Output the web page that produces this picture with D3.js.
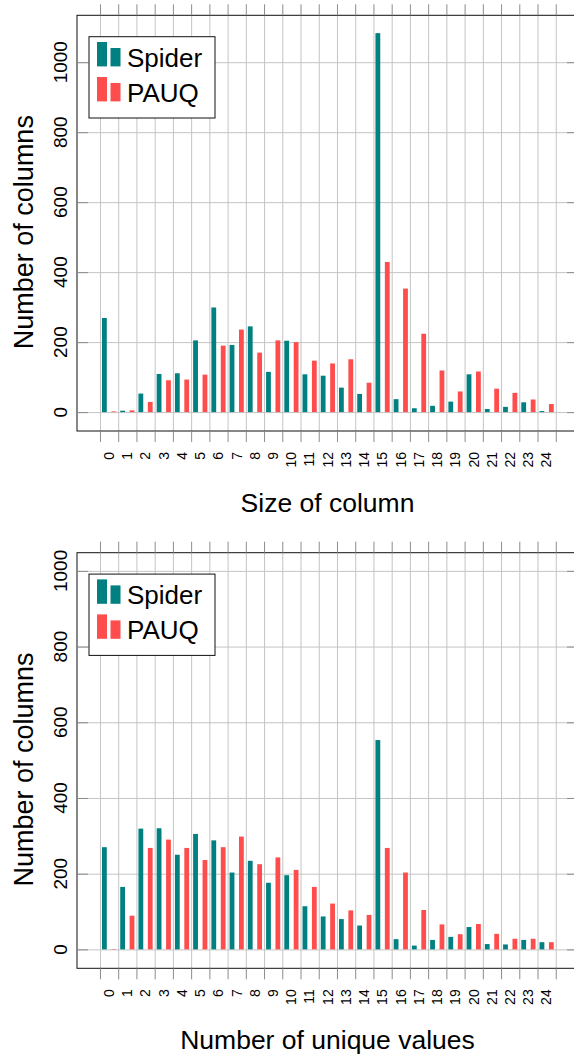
<!DOCTYPE html>
<html>
<head>
<meta charset="utf-8">
<script src="https://cdn.jsdelivr.net/npm/d3@7"></script>
<style>
    body { margin: 0; background: #fff; }
    svg text { font-family: "Liberation Sans", Arial, sans-serif; fill: #000; }
</style>
</head>
<body>
<div id="chart"></div>
<script>
// categories on the x axis (0..24)
const categories = ["0", "1", "2", "3", "4", "5", "6", "7", "8", "9", "10", "11", "12",
    "13", "14", "15", "16", "17", "18", "19", "20", "21", "22", "23", "24"];
const yTicks = [0, 200, 400, 600, 800, 1000];
const seriesNames = ["Spider", "PAUQ"];
const seriesColors = ["#008080", "#ff4d4d"];

// top panel: size of column
const sizeSpider = [269, 4, 53, 109, 111, 205, 299, 192, 245, 115, 204, 108, 104, 70, 52,
    1083, 37, 11, 18, 30, 108, 9, 15, 28, 3];
const sizePauq = [2, 5, 29, 91, 93, 107, 190, 236, 170, 205, 200, 147, 139, 151, 84,
    429, 353, 224, 119, 59, 116, 67, 55, 36, 23];

// bottom panel: number of unique values
const uniqueSpider = [270, 165, 319, 320, 250, 305, 288, 203, 234, 176, 196, 114, 87, 80, 63,
    553, 27, 10, 25, 33, 59, 14, 13, 25, 19];
const uniquePauq = [1, 89, 268, 290, 268, 236, 270, 298, 225, 243, 210, 165, 121, 103, 91,
    268, 203, 104, 66, 40, 67, 41, 28, 28, 19];

const svg = d3.select("#chart").append("svg")
    .attr("width", 574)
    .attr("height", 1055);

const left = 77, right = 578;

function drawPanel(opt) {
    let g = svg.append("g");
    let h = opt.bottom - opt.top;

    let x = d3.scaleLinear().domain([-1.26, 26.22]).range([left, right]);
    let y = d3.scaleLinear().domain(opt.yDomain).range([opt.bottom, opt.top]);
    let bounds = d3.range(0, categories.length + 1);

    // grid
    g.append("g")
        .attr("class", "grid")
        .attr("transform", "translate(0," + opt.bottom + ")")
        .call(d3.axisBottom(x).tickValues(bounds).tickSize(-h).tickSizeOuter(0).tickFormat(""));
    g.append("g")
        .attr("class", "grid")
        .attr("transform", "translate(" + left + ",0)")
        .call(d3.axisLeft(y).tickValues(yTicks).tickSize(-(right - left)).tickSizeOuter(0).tickFormat(""));
    g.selectAll(".grid .domain").remove();
    g.selectAll(".grid line").attr("stroke", "#c4c4c4").attr("stroke-width", 1);

    // bars
    let series = [opt.spider, opt.pauq];
    let offsets = [-4.7, 4.7];
    series.forEach((vals, s) => {
        g.selectAll(".bar" + s)
            .data(vals)
            .enter().append("rect")
            .attr("class", "bar" + s)
            .attr("x", (d, i) => x(i + 0.5) + offsets[s] - 2.4)
            .attr("width", 4.8)
            .attr("y", d => y(d))
            .attr("height", d => y(0) - y(d))
            .attr("fill", seriesColors[s]);
    });

    // axis box
    g.append("rect")
        .attr("x", left).attr("y", opt.top)
        .attr("width", right - left).attr("height", h)
        .attr("fill", "none").attr("stroke", "#111").attr("stroke-width", 1);

    // outside ticks on x, inside ticks on y
    let tickAxes = [
        [d3.axisBottom(x).tickValues(bounds).tickSize(11), "translate(0," + opt.bottom + ")"],
        [d3.axisTop(x).tickValues(bounds).tickSize(11), "translate(0," + opt.top + ")"],
        [d3.axisRight(y).tickValues(yTicks).tickSize(11), "translate(" + left + ",0)"],
        [d3.axisLeft(y).tickValues(yTicks).tickSize(11), "translate(" + right + ",0)"]
    ];
    tickAxes.forEach(a => {
        let t = g.append("g").attr("transform", a[1])
            .call(a[0].tickSizeOuter(0).tickFormat(""));
        t.select(".domain").remove();
        t.selectAll("line").attr("stroke", "#8c8c8c");
    });

    // x tick labels
    g.selectAll(".xlab")
        .data(categories)
        .enter().append("text")
        .attr("class", "xlab")
        .attr("transform", (d, i) => "translate(" + (x(i + 0.5) + 4.8) + "," + (opt.bottom + 21) + ") rotate(-90)")
        .attr("text-anchor", "end")
        .style("font-size", "14px")
        .text(d => d);

    // y tick labels
    g.selectAll(".ylab")
        .data(yTicks)
        .enter().append("text")
        .attr("class", "ylab")
        .attr("transform", d => "translate(67," + y(d) + ") rotate(-90)")
        .attr("text-anchor", "middle")
        .style("font-size", "19px")
        .text(d => d);

    // axis titles
    g.append("text")
        .attr("transform", "translate(33," + (opt.top + h / 2 + 9) + ") rotate(-90)")
        .attr("text-anchor", "middle")
        .style("font-size", "27px")
        .text("Number of columns");
    g.append("text")
        .attr("x", (left + right) / 2)
        .attr("y", opt.bottom + 80.7)
        .attr("text-anchor", "middle")
        .style("font-size", "26.5px")
        .text(opt.xTitle);

    // legend
    let lg = g.append("g").attr("transform", "translate(89," + (opt.top + 21.4) + ")");
    lg.append("rect")
        .attr("width", 126).attr("height", 81.3)
        .attr("fill", "#fff").attr("stroke", "#111").attr("stroke-width", 1);
    seriesNames.forEach((name, s) => {
        let row = lg.append("g").attr("transform", "translate(0," + (s * 35) + ")");
        row.append("rect").attr("x", 8).attr("y", 5.3).attr("width", 10).attr("height", 24.4)
            .attr("fill", seriesColors[s]);
        row.append("rect").attr("x", 21.5).attr("y", 11.3).attr("width", 10).attr("height", 18.4)
            .attr("fill", seriesColors[s]);
        row.append("text").attr("x", 38).attr("y", 30.3)
            .style("font-size", "26px")
            .text(name);
    });
}

drawPanel({top: 15.3, bottom: 431, yDomain: [-54, 1134],
    spider: sizeSpider, pauq: sizePauq, xTitle: "Size of column"});
drawPanel({top: 552.7, bottom: 968.3, yDomain: [-50, 1048],
    spider: uniqueSpider, pauq: uniquePauq, xTitle: "Number of unique values"});
</script>
</body>
</html>
